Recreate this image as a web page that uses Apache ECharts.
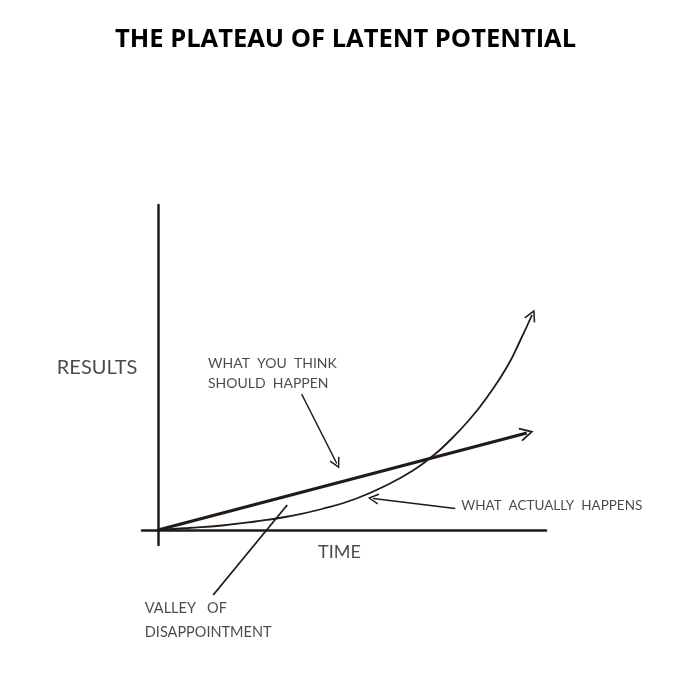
<!DOCTYPE html>
<html>
<head>
<meta charset="utf-8">
<script src="https://cdn.jsdelivr.net/npm/echarts@6/dist/echarts.min.js"></script>
<style>
  html, body { margin: 0; padding: 0; background: #fff; }
  #main { width: 673px; height: 680px; }
</style>
</head>
<body>
<div id="main"></div>
<script>
// straight line: what you think should happen
var expected = [[0, 0], [92.2, 19.4]];
// curved line: what actually happens
var actual = [
  [0, 0], [7.5, 0.4], [16, 0.9], [24.3, 1.7], [32.5, 2.7], [41, 4.2],
  [49.3, 6.2], [57.5, 9.1], [64.3, 12.2], [68.5, 14.7], [71.8, 17],
  [78, 22.2], [83, 27.4], [87.3, 32.7], [90.5, 37.8], [93.5, 43]
];
// annotation pointers
var thinkArrow = [[35.9, 27.2], [44.7, 13.3]];
var actualArrow = [[74.3, 4.3], [53.8, 6.3]];
var valleyLine = [[13.8, -13], [32.3, 5]];
// annotation texts [x, y, text, size, line height]
var notes = [
  [-25.3, 32.4, "RESULTS", 20, 20],
  [12.5, 31.4, "WHAT  YOU  THINK\nSHOULD  HAPPEN", 14, 20],
  [75.8, 4.8, "WHAT  ACTUALLY  HAPPENS", 13.5, 20],
  [40, -4.4, "TIME", 18, 20],
  [-3.3, -18, "VALLEY   OF\nDISAPPOINTMENT", 14.5, 24]
];

var ink = "#221a15";
var chevron = "path://M0,12 L6,0 L12,12 L10.6,12.8 L6,3.4 L1.4,12.8 Z";

var myChart = echarts.init(document.getElementById("main"));
myChart.setOption({
  animation: false,
  title: {
    left: 110,
    top: 22,
    text: "THE PLATEAU OF LATENT POTENTIAL",
    textStyle: { fontFamily: "Open Sans", fontWeight: "bold", fontSize: 25.5, color: "#000" }
  },
  grid: { left: 142, right: 127, top: 205, bottom: 135 },
  xAxis: {
    type: "value", min: -4, max: 97,
    axisLine: { lineStyle: { color: ink, width: 2.5 } },
    axisTick: { show: false }, axisLabel: { show: false }, splitLine: { show: false }
  },
  yAxis: {
    type: "value", min: -3, max: 65,
    axisLine: { lineStyle: { color: ink, width: 2.5 } },
    axisTick: { show: false }, axisLabel: { show: false }, splitLine: { show: false }
  },
  series: [
    {
      type: "line", data: actual, smooth: 0.5, symbol: "none",
      lineStyle: { color: ink, width: 1.8 }
    },
    {
      type: "lines", coordinateSystem: "cartesian2d", clip: false,
      symbol: ["none", chevron], symbolSize: 14,
      lineStyle: { color: ink, width: 3.2, opacity: 1 },
      data: [{ coords: expected }]
    },
    {
      // arrowhead only, the curve itself is drawn by the line series
      type: "lines", coordinateSystem: "cartesian2d", clip: false,
      symbol: ["none", chevron], symbolSize: 12,
      lineStyle: { color: ink, width: 0.01, opacity: 1 },
      data: [{ coords: actual.slice(-2) }]
    },
    {
      type: "lines", coordinateSystem: "cartesian2d", clip: false,
      symbol: ["none", chevron], symbolSize: 11,
      lineStyle: { color: ink, width: 1.5, opacity: 1 },
      data: [{ coords: thinkArrow }, { coords: actualArrow }]
    },
    {
      type: "lines", coordinateSystem: "cartesian2d", clip: false,
      symbol: "none",
      lineStyle: { color: ink, width: 1.8, opacity: 1 },
      data: [{ coords: valleyLine }]
    },
    {
      type: "scatter", symbolSize: 0, clip: false, silent: true,
      data: notes.map(function (n) {
        return {
          value: [n[0], n[1]],
          label: {
            show: true, position: "right", distance: 0,
            formatter: n[2], fontSize: n[3], lineHeight: n[4],
            fontFamily: "Lato", color: ink
          }
        };
      })
    }
  ]
});
</script>
</body>
</html>
